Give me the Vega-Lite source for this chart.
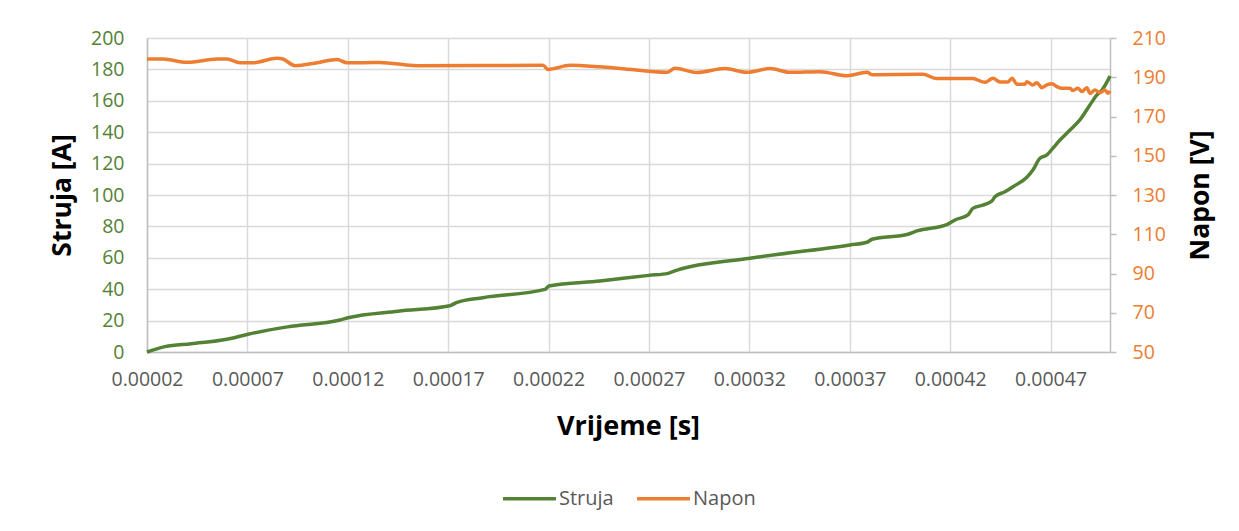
{
  "$schema": "https://vega.github.io/schema/vega-lite/v6.json",
  "autosize": {"type": "none"},
  "padding": {"left": 147, "top": 38, "right": 129, "bottom": 179},
  "width": 963,
  "height": 314,
  "background": "white",
  "config": {
    "font": "Open Sans",
    "view": {"stroke": null},
    "axis": {"gridColor": "#d9d9d9", "gridWidth": 1.5, "domainColor": "#bfbfbf", "domainWidth": 1.5, "tickColor": "#bfbfbf", "labelOverlap": false, "labelFlush": false}
  },
  "datasets": {
    "struja": [
      {"t": 0.0000200, "v": 0.0, "s": "Struja"},
      {"t": 0.0000290, "v": 3.4, "s": "Struja"},
      {"t": 0.0000420, "v": 5.3, "s": "Struja"},
      {"t": 0.0000598, "v": 8.1, "s": "Struja"},
      {"t": 0.0000703, "v": 11.3, "s": "Struja"},
      {"t": 0.0000900, "v": 16.0, "s": "Struja"},
      {"t": 0.0001161, "v": 20.4, "s": "Struja"},
      {"t": 0.0001201, "v": 21.8, "s": "Struja"},
      {"t": 0.0001450, "v": 26.0, "s": "Struja"},
      {"t": 0.0001709, "v": 29.5, "s": "Struja"},
      {"t": 0.0001744, "v": 31.6, "s": "Struja"},
      {"t": 0.0001873, "v": 34.6, "s": "Struja"},
      {"t": 0.0002182, "v": 39.9, "s": "Struja"},
      {"t": 0.0002202, "v": 42.0, "s": "Struja"},
      {"t": 0.0002456, "v": 45.2, "s": "Struja"},
      {"t": 0.0002700, "v": 48.8, "s": "Struja"},
      {"t": 0.0002795, "v": 50.1, "s": "Struja"},
      {"t": 0.0002840, "v": 52.2, "s": "Struja"},
      {"t": 0.0003203, "v": 59.7, "s": "Struja"},
      {"t": 0.0003701, "v": 68.2, "s": "Struja"},
      {"t": 0.0003786, "v": 69.9, "s": "Struja"},
      {"t": 0.0003811, "v": 71.8, "s": "Struja"},
      {"t": 0.0003990, "v": 75.0, "s": "Struja"},
      {"t": 0.0004035, "v": 77.1, "s": "Struja"},
      {"t": 0.0004189, "v": 81.5, "s": "Struja"},
      {"t": 0.0004224, "v": 84.1, "s": "Struja"},
      {"t": 0.0004289, "v": 87.3, "s": "Struja"},
      {"t": 0.0004313, "v": 91.5, "s": "Struja"},
      {"t": 0.0004363, "v": 93.6, "s": "Struja"},
      {"t": 0.0004408, "v": 96.2, "s": "Struja"},
      {"t": 0.0004423, "v": 98.9, "s": "Struja"},
      {"t": 0.0004473, "v": 102.1, "s": "Struja"},
      {"t": 0.0004513, "v": 105.3, "s": "Struja"},
      {"t": 0.0004582, "v": 111.3, "s": "Struja"},
      {"t": 0.0004612, "v": 115.9, "s": "Struja"},
      {"t": 0.0004647, "v": 123.4, "s": "Struja"},
      {"t": 0.0004682, "v": 125.5, "s": "Struja"},
      {"t": 0.0004712, "v": 129.9, "s": "Struja"},
      {"t": 0.0004747, "v": 135.0, "s": "Struja"},
      {"t": 0.0004797, "v": 141.4, "s": "Struja"},
      {"t": 0.0004846, "v": 147.8, "s": "Struja"},
      {"t": 0.0004896, "v": 157.3, "s": "Struja"},
      {"t": 0.0004931, "v": 163.7, "s": "Struja"},
      {"t": 0.0004956, "v": 166.9, "s": "Struja"},
      {"t": 0.0004986, "v": 173.2, "s": "Struja"},
      {"t": 0.0004996, "v": 175.8, "s": "Struja"}
    ],
    "napon": [
      {"t": 0.0000200, "v": 199.3, "s": "Napon"},
      {"t": 0.0000280, "v": 199.3, "s": "Napon"},
      {"t": 0.0000399, "v": 197.6, "s": "Napon"},
      {"t": 0.0000549, "v": 199.3, "s": "Napon"},
      {"t": 0.0000598, "v": 199.3, "s": "Napon"},
      {"t": 0.0000663, "v": 197.4, "s": "Napon"},
      {"t": 0.0000728, "v": 197.4, "s": "Napon"},
      {"t": 0.0000847, "v": 199.7, "s": "Napon"},
      {"t": 0.0000877, "v": 199.3, "s": "Napon"},
      {"t": 0.0000937, "v": 195.9, "s": "Napon"},
      {"t": 0.0001047, "v": 197.4, "s": "Napon"},
      {"t": 0.0001146, "v": 199.1, "s": "Napon"},
      {"t": 0.0001196, "v": 197.4, "s": "Napon"},
      {"t": 0.0001360, "v": 197.5, "s": "Napon"},
      {"t": 0.0001545, "v": 195.9, "s": "Napon"},
      {"t": 0.0002172, "v": 196.1, "s": "Napon"},
      {"t": 0.0002197, "v": 194.0, "s": "Napon"},
      {"t": 0.0002307, "v": 196.1, "s": "Napon"},
      {"t": 0.0002456, "v": 195.3, "s": "Napon"},
      {"t": 0.0002556, "v": 194.5, "s": "Napon"},
      {"t": 0.0002790, "v": 192.5, "s": "Napon"},
      {"t": 0.0002829, "v": 194.6, "s": "Napon"},
      {"t": 0.0002939, "v": 192.4, "s": "Napon"},
      {"t": 0.0003078, "v": 194.4, "s": "Napon"},
      {"t": 0.0003188, "v": 192.5, "s": "Napon"},
      {"t": 0.0003303, "v": 194.4, "s": "Napon"},
      {"t": 0.0003402, "v": 192.5, "s": "Napon"},
      {"t": 0.0003552, "v": 192.8, "s": "Napon"},
      {"t": 0.0003686, "v": 190.8, "s": "Napon"},
      {"t": 0.0003786, "v": 192.5, "s": "Napon"},
      {"t": 0.0003811, "v": 191.3, "s": "Napon"},
      {"t": 0.0004064, "v": 191.5, "s": "Napon"},
      {"t": 0.0004134, "v": 189.3, "s": "Napon"},
      {"t": 0.0004313, "v": 189.3, "s": "Napon"},
      {"t": 0.0004373, "v": 187.4, "s": "Napon"},
      {"t": 0.0004413, "v": 189.5, "s": "Napon"},
      {"t": 0.0004448, "v": 187.6, "s": "Napon"},
      {"t": 0.0004488, "v": 187.6, "s": "Napon"},
      {"t": 0.0004508, "v": 189.5, "s": "Napon"},
      {"t": 0.0004533, "v": 186.4, "s": "Napon"},
      {"t": 0.0004572, "v": 186.4, "s": "Napon"},
      {"t": 0.0004582, "v": 187.7, "s": "Napon"},
      {"t": 0.0004612, "v": 186.1, "s": "Napon"},
      {"t": 0.0004632, "v": 187.2, "s": "Napon"},
      {"t": 0.0004657, "v": 184.7, "s": "Napon"},
      {"t": 0.0004682, "v": 186.1, "s": "Napon"},
      {"t": 0.0004707, "v": 186.7, "s": "Napon"},
      {"t": 0.0004732, "v": 185.2, "s": "Napon"},
      {"t": 0.0004757, "v": 184.4, "s": "Napon"},
      {"t": 0.0004797, "v": 184.4, "s": "Napon"},
      {"t": 0.0004811, "v": 183.2, "s": "Napon"},
      {"t": 0.0004836, "v": 184.4, "s": "Napon"},
      {"t": 0.0004856, "v": 182.7, "s": "Napon"},
      {"t": 0.0004881, "v": 184.7, "s": "Napon"},
      {"t": 0.0004896, "v": 181.8, "s": "Napon"},
      {"t": 0.0004921, "v": 183.5, "s": "Napon"},
      {"t": 0.0004946, "v": 182.1, "s": "Napon"},
      {"t": 0.0004971, "v": 183.5, "s": "Napon"},
      {"t": 0.0004986, "v": 181.8, "s": "Napon"},
      {"t": 0.0004996, "v": 183.0, "s": "Napon"}
    ]
  },
  "encoding": {
    "x": {
      "field": "t", "type": "quantitative",
      "scale": {"domain": [0.00002, 0.0004996], "nice": false, "zero": false},
      "axis": {
        "values": [0.00002, 0.00007, 0.00012, 0.00017, 0.00022, 0.00027, 0.00032, 0.00037, 0.00042, 0.00047],
        "format": ".5f", "ticks": false, "labelPadding": 18,
        "labelFontSize": 19.5, "labelColor": "#595959", "labelFont": "Open Sans",
        "title": "Vrijeme [s]", "titleFontSize": 27, "titleFont": "Open Sans", "titleFontWeight": "bold", "titleColor": "#000000",
        "titleX": 481, "titleY": 74, "titleAlign": "center", "titleBaseline": "middle"
      }
    },
    "color": {
      "field": "s", "type": "nominal",
      "scale": {"domain": ["Struja", "Napon"], "range": ["#548235", "#ed7d31"]},
      "legend": {
        "title": null, "orient": "none", "direction": "horizontal",
        "legendX": 354, "legendY": 432,
        "symbolType": "stroke", "symbolSize": 2800, "symbolStrokeWidth": 3.5,
        "labelFontSize": 20, "labelColor": "#595959", "labelFont": "Open Sans",
        "columnPadding": 16, "labelOffset": 1
      }
    }
  },
  "layer": [
    {
      "data": {"name": "struja"},
      "mark": {"type": "line", "strokeWidth": 3.5, "interpolate": "monotone"},
      "encoding": {
        "y": {
          "field": "v", "type": "quantitative",
          "scale": {"domain": [0, 200], "nice": false},
          "axis": {
            "values": [0, 20, 40, 60, 80, 100, 120, 140, 160, 180, 200],
            "ticks": false, "labelPadding": 23,
            "labelFontSize": 19.5, "labelColor": "#548235", "labelFont": "Open Sans",
            "title": "Struja [A]", "titleFontSize": 26.5, "titleFont": "Open Sans", "titleFontWeight": "bold", "titleColor": "#000000",
            "titleAngle": -90, "titleX": -85, "titleY": 157, "titleAlign": "center", "titleBaseline": "middle"
          }
        }
      }
    },
    {
      "data": {"name": "napon"},
      "mark": {"type": "line", "strokeWidth": 3.5, "interpolate": "monotone"},
      "encoding": {
        "y": {
          "field": "v", "type": "quantitative",
          "scale": {"domain": [50, 210], "nice": false, "zero": false},
          "axis": {
            "orient": "right", "grid": false,
            "values": [50, 70, 90, 110, 130, 150, 170, 190, 210],
            "ticks": true, "tickSize": 6, "tickWidth": 1.5, "labelPadding": 16,
            "labelFontSize": 19.5, "labelColor": "#ed7d31", "labelFont": "Open Sans",
            "title": "Napon [V]", "titleFontSize": 26.5, "titleFont": "Open Sans", "titleFontWeight": "bold", "titleColor": "#000000",
            "titleAngle": -90, "titleX": 90, "titleY": 157, "titleAlign": "center", "titleBaseline": "middle"
          }
        }
      }
    }
  ],
  "resolve": {"scale": {"y": "independent"}}
}
